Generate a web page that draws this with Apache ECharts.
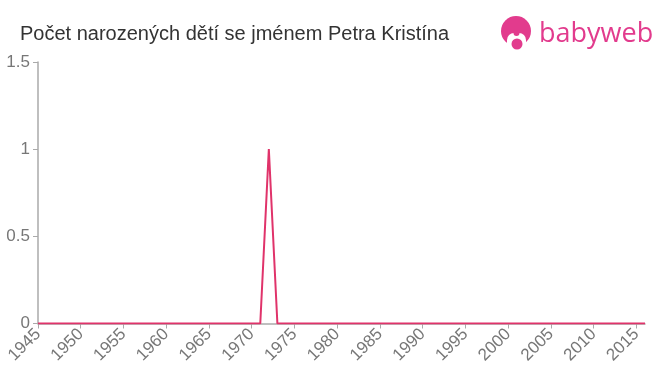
<!DOCTYPE html>
<html>
<head>
<meta charset="utf-8">
<script src="https://cdn.jsdelivr.net/npm/echarts@6/dist/echarts.min.js"></script>
<style>html,body{margin:0;padding:0;background:#fff;}#c{width:660px;height:375px;}</style>
</head>
<body>
<div id="c"></div>
<script>
const titleText = 'Počet narozených dětí se jménem Petra Kristína';
const years = [];
for (let y = 1945; y <= 2016; y++) years.push(String(y));
const counts = [
  0,0,0,0,0, 0,0,0,0,0, 0,0,0,0,0, 0,0,0,0,0, // 1945-1964
  0,0,0,0,0, 0,0,1,0,0, 0,0,0,0,0, 0,0,0,0,0, // 1965-1984
  0,0,0,0,0, 0,0,0,0,0, 0,0,0,0,0, 0,0,0,0,0, // 1985-2004
  0,0,0,0,0, 0,0,0,0,0, 0,0                   // 2005-2016
];
const yTicks = [0, 0.5, 1, 1.5];

const chart = echarts.init(document.getElementById('c'), null, {renderer: 'canvas'});
const pink = '#e23b8d';
const font = 'Liberation Sans, Arial, sans-serif';
chart.setOption({
  animation: false,
  title: {
    text: titleText, left: 15, top: 19,
    textStyle: {fontFamily: font, fontSize: 20, fontWeight: 'normal', color: '#333'}
  },
  graphic: [
    {type: 'circle', shape: {cx: 516, cy: 31, r: 15}, style: {fill: pink}},
    {type: 'rect', shape: {x: 507, y: 33, width: 19, height: 17, r: [7,7,0,0]}, style: {fill: '#fff'}},
    {type: 'circle', shape: {cx: 516.5, cy: 33, r: 3}, style: {fill: pink}},
    {type: 'circle', shape: {cx: 517, cy: 44, r: 5.5}, style: {fill: pink}},
    {type: 'text', left: 539, top: 21, style: {text: 'babyweb', fill: pink, font: '27px "Open Sans", sans-serif'}}
  ],
  grid: {left: 38, right: 15, top: 62, bottom: 51.5, containLabel: false},
  xAxis: {
    type: 'category', data: years, boundaryGap: false,
    axisLine: {lineStyle: {color: '#aaa', width: 1.5}},
    axisTick: {interval: 4, length: 5, lineStyle: {color: '#aaa'}},
    axisLabel: {interval: 4, rotate: 45, color: '#777', fontSize: 17, fontFamily: font, margin: 8},
    splitLine: {show: false}
  },
  yAxis: {
    type: 'value', min: yTicks[0], max: yTicks[yTicks.length-1], interval: 0.5,
    axisLine: {show: true, lineStyle: {color: '#aaa', width: 1.5}},
    axisTick: {show: true, length: 5, lineStyle: {color: '#aaa'}},
    axisLabel: {color: '#777', fontSize: 17, fontFamily: font, margin: 8},
    splitLine: {show: false}
  },
  series: [{
    type: 'line', data: counts, showSymbol: false, symbol: 'none',
    lineStyle: {color: '#e0336a', width: 2}
  }]
});
</script>
</body>
</html>
